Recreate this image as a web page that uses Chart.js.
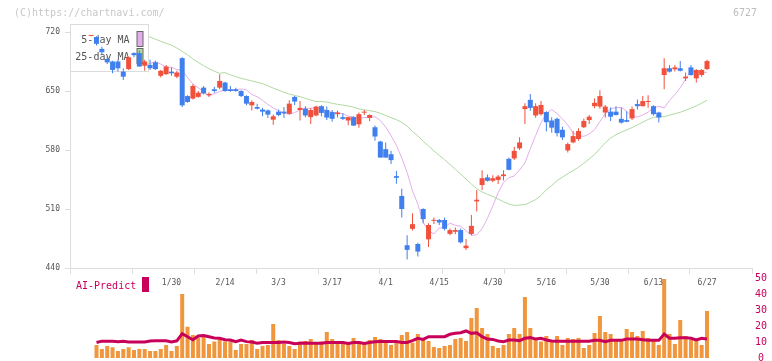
<!DOCTYPE html>
<html><head><meta charset="utf-8">
<script src="https://cdn.jsdelivr.net/npm/chart.js@4"></script>
<style>
html,body{margin:0;padding:0;background:#fff;}
#wrap{position:relative;width:772px;height:361px;overflow:hidden;background:#fff;}
canvas{position:absolute;left:0;top:0;}
.t{position:absolute;font-family:'DejaVu Sans Mono',monospace;white-space:nowrap;line-height:1;}
</style></head><body>
<div id="wrap">
<canvas id="vol" width="772" height="375"></canvas>
<canvas id="price" width="772" height="361"></canvas>
<div class="t" style="left:14px;top:8px;font-size:10px;color:#c8c8c8">(C)https://chartnavi.com/</div>
<div class="t" style="left:733px;top:8px;font-size:10px;color:#bdbdbd">6727</div>
<div class="t" style="left:76px;top:281px;font-size:10px;color:#c8005a">AI-Predict</div>
<div style="position:absolute;left:142px;top:277px;width:7px;height:15px;background:#c8005a"></div>
</div>
<script>
// ---- data (first candle is day index -1) ----
const firstIndex = -1;
const open = [715.4,714,700,688,685,685,673,676,695,695,
680,681,684,668,670,673,667,689,644,641,
643,654,645,652,654,660,652,652,650,644,
633,631,628,627,616,625.5,625.5,623,643,627.5,
629,619,621,632,627.5,625,622.5,619,615,619,
610.5,624.3,618,607,590,581,575,549,525.5,467,
486.5,468.5,510,474,496,497,497,480.5,483,485,
463.5,480.5,519,538.5,547.5,543.5,544.5,549,569.5,570,
582,628.5,639.5,621,622.5,625,615,617,604,579.5,
589,593,607,615.5,632,631.5,624.5,625.5,625.5,617,
615.5,617.5,634.5,632,637,632,624.5,669,677,675.7,
677,665,678,665,669,676];
const high = [716.5,715,702.5,691,686,687,677,691,696,698,
687,687,686,675,681,678,674,690,645,658,
650,656,648.5,655,670,661,656,654,651,645,
639,635,630,628,622,628,631,639,644,638,
632,629.5,632.5,633,631.5,627.5,626.5,623.5,619.5,620,
624.5,627.5,622,609,591,589,579,555,534,479,
505,470,511,493,500,498,500,487,488,487,
474.5,503,532.5,556,551,550,550.4,556,571,584,
595,635.5,646.5,635.5,638,626,619,618.5,607.5,589,
602.5,605.7,617.5,621.5,641,651,633.5,630.5,632,630.5,
626,631.5,640,644,645,633,625.5,689,681,681,
685.5,672,681,676,676,687];
const low = [715,704,694,682,671,673,663,675,690,679,
674,675,675,666,669,668,665,631,636,640,
642,646,643,648,652,649,649,649,643,633,
627,628,620,618,610,620,618,622,633.5,615,
619,611,620,620,615.5,613.5,618.5,615.5,609.5,608.5,
606.5,621.5,614,591,571,571,563.5,540,500,450,
484.5,453.5,493,465,492.3,491,484.5,479,480,469,
461.5,479,507,532.5,542.5,541.7,539.7,543.7,556,568,
580,611,626.5,618.4,621,602,600.6,596,592,577,
588,591,606,611,629.5,629,618.5,614.5,621,611.5,
613,615.5,628,631.5,630,621,612.5,652,672,673,
673,662,668,660,667,675];
const close = [716.2,706,696,684,675,677,667,690,692.5,679,
685,677,676,674,679,671,672,633,637,656,
648,647,646.5,650,662,650,650,650,644,635,
637,629,625.5,622,620,621.5,623.5,635,637.5,630,
621,627.5,631.5,624,618.5,617,624.5,617,619,609,
622.5,625.5,621.5,596,571,571,568,547,510,461.5,
492,459.5,498,491,497,494,486.5,485,485,470.5,
466.5,490,521,546.5,543.5,546.5,548.5,551,556.5,579,
589,632,630,632,633.5,613,606.5,600,595,587,
596.5,602.5,614.5,619.5,636,644,631.5,619.5,621.5,612.5,
613.5,628.5,632,638,638,622.5,618.5,677,673,678,
674,667,669,675,675,685.5];
const volume = [null,8.2,5.7,7.5,6.7,4.4,5.7,6.7,5.0,5.7,
5.7,4.4,4.4,5.7,8.2,4.4,7.5,40.3,19.7,14.5,
12.8,14.0,8.8,10.3,12.4,10.3,10.3,5.0,8.8,8.8,
11.3,5.7,7.5,8.2,21.4,11.3,8.8,7.5,5.7,10.3,
10.7,11.9,8.8,10.3,16.4,11.9,10.3,10.3,8.8,12.6,
10.7,8.8,11.3,13.2,11.9,10.7,8.2,10.7,14.5,16.4,
9.6,15.1,11.3,10.7,6.9,6.3,7.5,8.2,11.9,12.6,
10.7,25.2,31.4,18.9,15.1,7.5,6.3,8.2,15.1,18.9,
15.1,38.4,18.9,11.9,10.3,13.8,10.7,13.8,8.2,12.6,
11.9,12.6,6.3,8.2,15.7,26.4,16.4,15.1,11.9,11.9,
18.2,16.4,13.8,17.0,12.6,10.7,8.2,49.7,15.1,8.8,
23.9,13.8,11.3,11.9,8.2,29.6];
const aiPredict = [null,9.8,10.6,10.5,10.6,10.3,10.5,10.1,10.1,10.1,
10.1,10.7,10.8,10.8,10.8,10.1,10.8,15.3,13.4,11.5,
13.8,14.2,13.4,12.6,12.4,11.5,11.3,10.2,11.3,10.3,
10.1,9.3,9.7,9.7,9.7,9.8,10.0,9.8,9.0,9.3,
9.5,9.3,9.3,9.3,9.8,9.8,9.8,9.8,9.2,9.8,
9.7,9.1,9.7,10.2,10.3,10.3,10.3,10.3,9.8,9.8,
10.9,12.4,11.7,13.4,13.4,13.4,13.4,14.9,15.5,15.9,
17.0,15.5,15.9,13.4,11.9,11.7,10.7,10.3,11.3,11.3,
10.9,12.4,12.8,11.9,12.4,11.3,10.7,10.5,10.5,10.5,
10.5,10.5,10.5,10.5,11.1,11.1,10.3,11.1,11.1,11.1,
11.9,11.9,11.9,11.5,11.1,11.1,11.1,15.1,12.4,12.4,
12.8,12.8,12.4,11.3,12.4,11.9];
const ma25EarlyStart = 9;
const ma25Early = [716,714,711.5,709,706.5,704.5,701,697,693,688,684,680,676.5,673.4,671];
const priceTicks = [440,510,580,650,720];
const volumeTicks = [0,10,20,30,40,50];
const dateLabels = ['1/30','2/14','3/3','3/17','4/1','4/15','4/30','5/16','5/30','6/13','6/27'];
const dateLabelDays = [14,24,34,44,54,64,74,84,94,104,114];

// ---- styling / layout ----
const RED = '#f0503c', BLUE = '#3f7fee', PINK = '#e2aeea', GREEN = '#b0d9a0';
const ORANGE = '#f0963c', CRIMSON = '#c8005a';
const MONO = '"DejaVu Sans Mono", monospace';
const xMin = -4.95, xMax = 122.4;

const day = k => k + firstIndex;
const candleColor = close.map((c, k) => c >= open[k] ? RED : BLUE);
const bodies = open.map((o, k) => ({x: day(k), y: [o, close[k]]}));
const wicks = low.map((l, k) => ({x: day(k), y: [l, high[k]]}));
// moving averages of the closes preceding each day
function priorAverage(vals, n, k) { let s = 0; for (let j = k - n; j < k; j++) s += vals[j]; return s / n; }
const ma5 = [];
for (let k = 5; k < close.length; k++) ma5.push({x: day(k), y: priorAverage(close, 5, k)});
const ma25 = ma25Early.map((v, j) => ({x: ma25EarlyStart + j, y: v}));
for (let k = 25; k < close.length; k++) ma25.push({x: day(k), y: priorAverage(close, 25, k)});
const volBars = [], aiLine = [];
volume.forEach((v, k) => { if (v !== null) volBars.push({x: day(k), y: v}); });
aiPredict.forEach((v, k) => { if (v !== null) aiLine.push({x: day(k), y: v}); });

const legendBox = {
  id: 'legendBox',
  beforeDatasetDraw(chart, args) {
    if (args.index !== 2) return;
    const ctx = chart.ctx, a = chart.chartArea;
    ctx.save();
    ctx.fillStyle = '#ffffff';
    ctx.fillRect(a.left, a.top, 78, 47);
    ctx.strokeStyle = '#dcdcdc'; ctx.lineWidth = 1;
    ctx.strokeRect(a.left + 0.5, a.top + 0.5, 78, 47);
    ctx.font = '10px ' + MONO; ctx.fillStyle = '#555'; ctx.textAlign = 'right'; ctx.textBaseline = 'middle';
    ctx.fillText('5-day MA', a.left + 59.5, a.top + 16);
    ctx.fillText('25-day MA', a.left + 59.5, a.top + 33);
    ctx.strokeStyle = '#666';
    ctx.fillStyle = PINK; ctx.fillRect(a.left + 67, a.top + 7.5, 6, 15); ctx.strokeRect(a.left + 67, a.top + 7.5, 6, 15);
    ctx.fillStyle = GREEN; ctx.fillRect(a.left + 67, a.top + 24.5, 6, 15); ctx.strokeRect(a.left + 67, a.top + 24.5, 6, 15);
    ctx.restore();
  }
};

new Chart(document.getElementById('price'), {
  type: 'bar',
  data: { datasets: [
    {type: 'line', data: ma25, borderColor: GREEN, borderWidth: 1, pointRadius: 0, order: 4},
    {type: 'line', data: ma5, borderColor: PINK, borderWidth: 1, pointRadius: 0, order: 3},
    {type: 'bar', data: wicks, backgroundColor: candleColor, barThickness: 1, grouped: false, borderWidth: 0, inflateAmount: 0, order: 2},
    {type: 'bar', data: bodies, backgroundColor: candleColor, barThickness: 5, grouped: false, borderWidth: 0, inflateAmount: 0, minBarLength: 1, order: 1}
  ]},
  options: {
    responsive: false, animation: false, devicePixelRatio: 1,
    layout: {padding: {top: 24, right: 20, left: 0, bottom: 0}},
    plugins: {legend: {display: false}, tooltip: {enabled: false}},
    scales: {
      x: {type: 'linear', min: xMin, max: xMax, offset: false,
        afterBuildTicks: s => { s.ticks = Array.from({length: 12}, (_, k) => ({value: xMin + k * (xMax - xMin) / 11})); },
        ticks: {display: false},
        grid: {drawOnChartArea: false, drawTicks: true, tickLength: 6, color: '#dddddd', offset: false},
        border: {color: '#dddddd', width: 1},
        afterFit: s => { s.height = 93; }},
      y: {type: 'linear', min: 440, max: 729.5,
        afterBuildTicks: s => { s.ticks = priceTicks.map(v => ({value: v})); },
        ticks: {color: '#555', font: {family: MONO, size: 8}, padding: 5},
        grid: {drawOnChartArea: false, tickLength: 5, color: '#dddddd'},
        border: {color: '#dddddd', width: 1},
        afterFit: s => { s.width = 70; }}
    }
  },
  plugins: [legendBox]
});

const dateLabelPlugin = {
  id: 'dateLabels',
  afterDatasetsDraw(chart) {
    const ctx = chart.ctx, xs = chart.scales.x;
    ctx.save();
    ctx.font = '8px ' + MONO; ctx.fillStyle = '#555'; ctx.textAlign = 'center'; ctx.textBaseline = 'middle';
    dateLabels.forEach((t, k) => ctx.fillText(t, xs.getPixelForValue(dateLabelDays[k]), 283));
    ctx.restore();
  }
};

new Chart(document.getElementById('vol'), {
  type: 'bar',
  data: { datasets: [
    {type: 'line', data: aiLine, borderColor: CRIMSON, borderWidth: 3, pointRadius: 0, order: 0},
    {type: 'bar', data: volBars, backgroundColor: ORANGE, barThickness: 4, grouped: false, borderWidth: 0, inflateAmount: 0, order: 1}
  ]},
  options: {
    responsive: false, animation: false, devicePixelRatio: 1,
    layout: {padding: {top: 278.5, right: 0, left: 70, bottom: 17}},
    plugins: {legend: {display: false}, tooltip: {enabled: false}},
    scales: {
      x: {type: 'linear', min: xMin, max: xMax, offset: false, display: false},
      y: {type: 'linear', position: 'right', min: 0, max: 50,
        afterBuildTicks: s => { s.ticks = volumeTicks.map(v => ({value: v})); },
        ticks: {color: CRIMSON, font: {family: MONO, size: 10}, padding: 3, crossAlign: 'center'},
        grid: {display: false, drawTicks: false},
        border: {display: false},
        afterFit: s => { s.width = 20; }}
    }
  },
  plugins: [dateLabelPlugin]
});
</script>
</body></html>
